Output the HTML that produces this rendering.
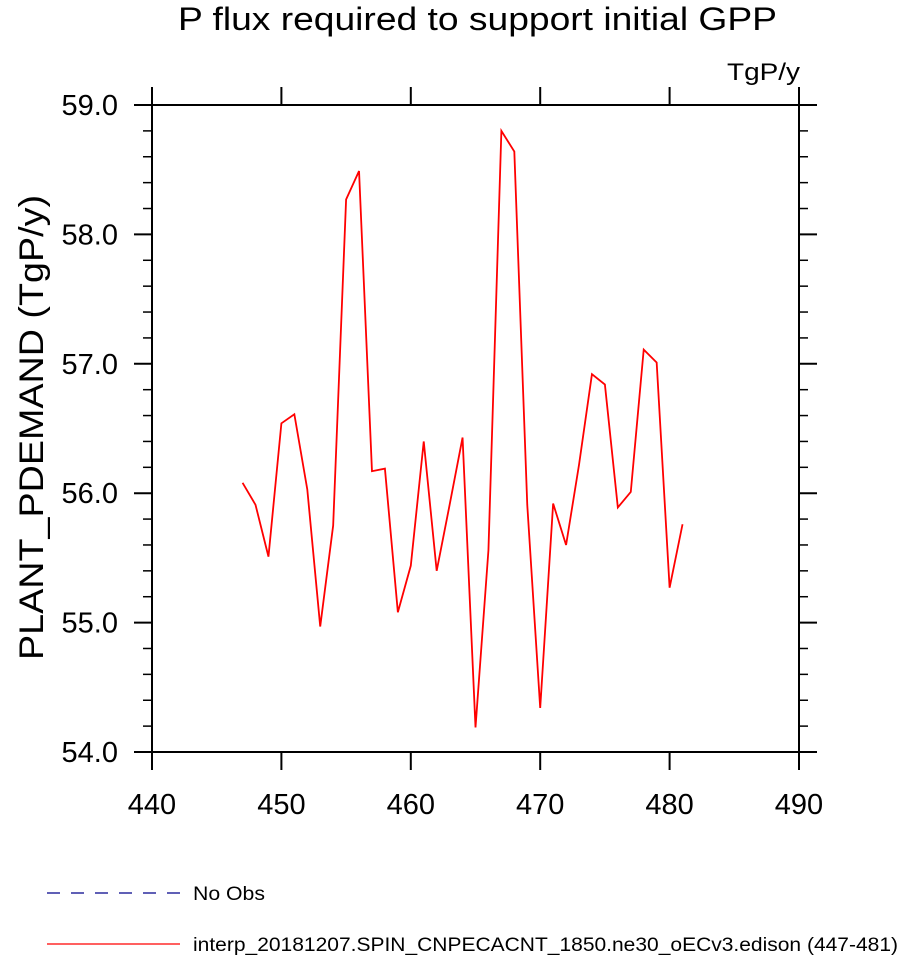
<!DOCTYPE html>
<html><head><meta charset="utf-8"><style>
html,body{margin:0;padding:0;background:#fff;}
svg{display:block;font-family:"Liberation Sans",Arial,sans-serif;}
</style></head><body>
<svg id="chart" width="898" height="958" viewBox="0 0 898 958" xmlns="http://www.w3.org/2000/svg">
<text x="178" y="30" font-size="32" textLength="599" lengthAdjust="spacingAndGlyphs">P flux required to support initial GPP</text>
<text x="727" y="80" font-size="24" textLength="73" lengthAdjust="spacingAndGlyphs">TgP/y</text>
<text transform="translate(43,660) rotate(-90)" font-size="34" textLength="465" lengthAdjust="spacingAndGlyphs">PLANT_PDEMAND  (TgP/y)</text>
<g id="axes"></g>
<polyline id="series" fill="none" stroke="#ff0000" stroke-width="1.8"></polyline>
<g>
<line x1="47" y1="893" x2="180" y2="893" stroke="#00008b" stroke-width="1.2" stroke-dasharray="13,11"/>
<text x="193" y="900" font-size="19" textLength="72" lengthAdjust="spacingAndGlyphs">No Obs</text>
<line x1="47" y1="944" x2="180" y2="944" stroke="#ff0000" stroke-width="1.2"/>
<text x="193" y="951" font-size="19" textLength="705" lengthAdjust="spacingAndGlyphs">interp_20181207.SPIN_CNPECACNT_1850.ne30_oECv3.edison (447-481)</text>
</g>
</svg>
<script>
const years=[447,448,449,450,451,452,453,454,455,456,457,458,459,460,461,462,463,464,465,466,467,468,469,470,471,472,473,474,475,476,477,478,479,480,481];
const values=[56.08,55.91,55.51,56.54,56.61,56.03,54.97,55.75,58.27,58.49,56.17,56.19,55.08,55.44,56.40,55.40,55.91,56.43,54.19,55.56,58.80,58.64,55.91,54.34,55.92,55.60,56.22,56.92,56.84,55.89,56.01,57.11,57.01,55.27,55.76];
const xTicks=[440,450,460,470,480,490];
const yTicks=["54.0","55.0","56.0","57.0","58.0","59.0"];
const X0=152,X1=799,Y0=752,Y1=105,XMIN=440,XMAX=490,YMIN=54,YMAX=59;
const sx=v=>X0+(v-XMIN)/(XMAX-XMIN)*(X1-X0);
const sy=v=>Y0-(v-YMIN)/(YMAX-YMIN)*(Y0-Y1);
const NS="http://www.w3.org/2000/svg";
const g=document.getElementById('axes');
function ln(x1,y1,x2,y2,w,name){const l=document.createElementNS(NS,'line');l.setAttribute('x1',x1);l.setAttribute('y1',y1);l.setAttribute('x2',x2);l.setAttribute('y2',y2);l.setAttribute('stroke','#000');l.setAttribute('stroke-width',w);


g.appendChild(l);}
const fr=document.createElementNS(NS,'rect');
fr.setAttribute('x',X0);fr.setAttribute('y',Y1);fr.setAttribute('width',X1-X0);fr.setAttribute('height',Y0-Y1);fr.setAttribute('fill','none');fr.setAttribute('stroke','#000');fr.setAttribute('stroke-width','2');


g.appendChild(fr);
xTicks.forEach(t=>{const x=sx(t);ln(x,Y0,x,Y0+18,2,'x-tick');ln(x,Y1,x,Y1-18,2,'x-tick-top');
const tx=document.createElementNS(NS,'text');tx.setAttribute('x',x);tx.setAttribute('y',Y0+62);tx.setAttribute('font-size','29');tx.setAttribute('text-anchor','middle');tx.textContent=t;


g.appendChild(tx);});
yTicks.forEach(t=>{const y=sy(parseFloat(t));ln(X0,y,X0-18,y,2,'y-tick');ln(X1,y,X1+18,y,2,'y-tick-right');
const tx=document.createElementNS(NS,'text');tx.setAttribute('x',X0-34);tx.setAttribute('y',y+10);tx.setAttribute('font-size','29');tx.setAttribute('text-anchor','end');tx.textContent=t;


g.appendChild(tx);});
for(let i=0;i<25;i++){if(i%5===0)continue;const y=sy(YMIN+i*0.2);ln(X0,y,X0-9,y,1.5,'y-minor-tick');ln(X1,y,X1+9,y,1.5,'y-minor-tick-right');}
document.getElementById('series').setAttribute('points',years.map((yr,i)=>sx(yr)+','+sy(values[i])).join(' '));
</script>
</body></html>
